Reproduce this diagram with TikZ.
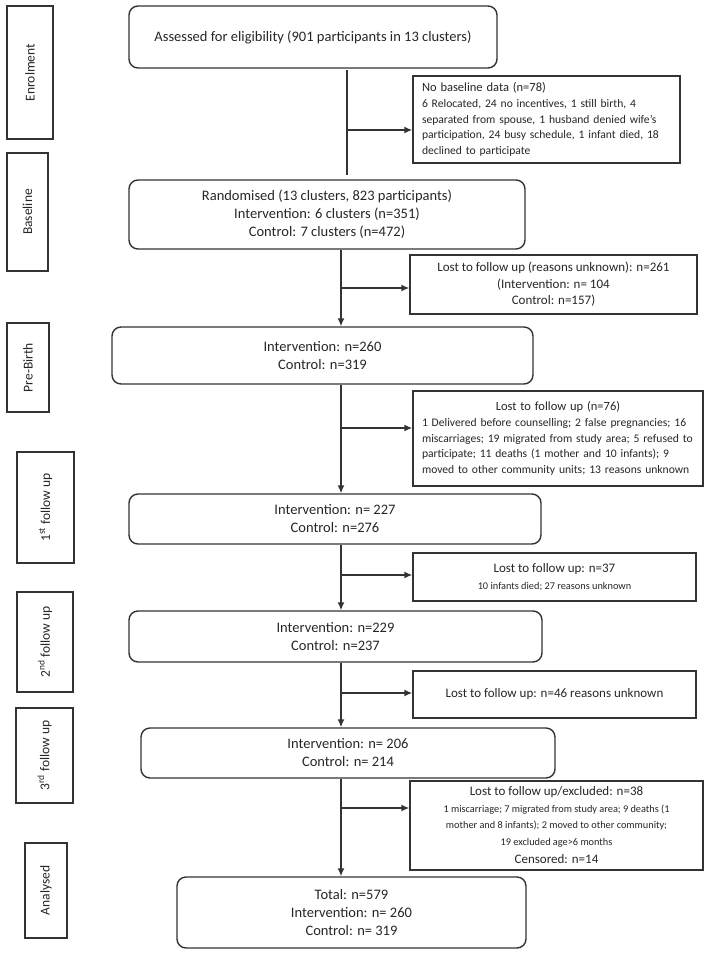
\documentclass[tikz,border=0pt]{standalone}
\usepackage{fontspec}
\setmainfont{Carlito}
\usetikzlibrary{arrows.meta}
\definecolor{lineC}{HTML}{333333}
\definecolor{textC}{HTML}{262626}
\newcommand{\smalltxt}{\fontsize{11.6}{15.8}\selectfont}
\newcommand{\tinytxt}{\fontsize{10.3}{14}\selectfont}
\newcommand{\headtxt}{\fontsize{13}{16.5}\selectfont}
\begin{document}
\begin{tikzpicture}[x=1pt,y=-1pt,
  line width=1.4pt, draw=lineC,
  box/.style={draw=lineC, text=textC, line width=1.4pt, inner sep=0pt},
  mainbox/.style={box, rounded corners=9pt, align=center, font=\fontsize{14.5}{18}\selectfont},
  sidebox/.style={box, align=center, font=\headtxt},
  parbox/.style={box, align=left, font=\smalltxt},
  phase/.style={box, rotate=90, font=\fontsize{13.5}{16}\selectfont},
  arr/.style={-{Latex[length=8pt,width=7pt]}},
]
\useasboundingbox (0,0) rectangle (709,954);

% phase labels
\node[phase, minimum width=133pt, minimum height=46pt] (pe) at (30,72.5) {Enrolment};
\node[phase, minimum width=118pt, minimum height=41pt] (pb) at (27.5,212) {Baseline};
\node[phase, minimum width=89pt, minimum height=42pt] (pp) at (28,367.5) {Pre-Birth};
\node[phase, minimum width=111pt, minimum height=57pt] (p1) at (45.5,507.5) {1\textsuperscript{st} follow up};
\node[phase, minimum width=100pt, minimum height=56pt] (p2) at (45,642) {2\textsuperscript{nd} follow up};
\node[phase, minimum width=95pt, minimum height=57pt] (p3) at (44.5,755.5) {3\textsuperscript{rd} follow up};
\node[phase, minimum width=95pt, minimum height=42pt] (pa) at (46,890.5) {Analysed};

% main boxes
\node[mainbox, minimum width=368pt, minimum height=62pt] (A) at (313,37) {Assessed for eligibility (901 participants in 13 clusters)};
\node[mainbox, minimum width=396pt, minimum height=69pt] (R) at (327,214.5) {Randomised (13 clusters, 823 participants)\\Intervention: 6 clusters (n=351)\\Control: 7 clusters (n=472)};
\node[mainbox, minimum width=421pt, minimum height=57pt] (P) at (322.5,355.5) {Intervention: n=260\\Control: n=319};
\node[mainbox, minimum width=412pt, minimum height=50pt] (F1) at (335,519) {Intervention: n= 227\\Control: n=276};
\node[mainbox, minimum width=413pt, minimum height=51pt] (F2) at (335.5,636.5) {Intervention: n=229\\Control: n=237};
\node[mainbox, minimum width=414pt, minimum height=50pt] (F3) at (348,753) {Intervention: n= 206\\Control: n= 214};
\node[mainbox, minimum width=349pt, minimum height=71pt] (T) at (351.5,912.5) {Total: n=579\\Intervention: n= 260\\Control: n= 319};

% side boxes
\node[parbox, inner xsep=9pt, text width=249pt, minimum height=87pt] (L0) at (546.5,119.5)
  {{\fontsize{12.5}{15.8}\selectfont No baseline data (n=78)}\\
   6 Relocated, 24 no incentives, 1 still birth, 4\\
   separated from spouse, 1 husband denied wife’s\\
   participation, 24 busy schedule, 1 infant died, 18\\
   declined to participate};
\node[sidebox, minimum width=287pt, minimum height=59pt] (L1) at (553.5,284.5)
  {Lost to follow up (reasons unknown): n=261\\(Intervention: n= 104\\Control: n=157)};
\node[parbox, inner xsep=9pt, text width=272pt, minimum height=95pt] (L2) at (558,438.5)
  {\makebox[272pt][c]{\fontsize{12.5}{15.8}\selectfont Lost to follow up (n=76)}\\
   1 Delivered before counselling; 2 false pregnancies; 16\\
   miscarriages; 19 migrated from study area; 5 refused to\\
   participate; 11 deaths (1 mother and 10 infants); 9\\
   moved to other community units; 13 reasons unknown};
\node[sidebox, minimum width=283pt, minimum height=48pt] (L3) at (554.5,577)
  {{\headtxt Lost to follow up: n=37}\\{\tinytxt 10 infants died; 27 reasons unknown}};
\node[sidebox, minimum width=283pt, minimum height=47pt] (L4) at (554.5,694.5)
  {Lost to follow up: n=46 reasons unknown};
\node[sidebox, minimum width=293pt, minimum height=89pt] (L5) at (556.5,825.5)
  {{\headtxt Lost to follow up/excluded: n=38}\\
   {\tinytxt 1 miscarriage; 7 migrated from study area; 9 deaths (1}\\
   {\tinytxt mother and 8 infants); 2 moved to other community;}\\
   {\tinytxt 19 excluded age>6 months}\\[2pt]
   {\headtxt Censored: n=14}};

% connectors
\coordinate (t0) at (347,70);
\coordinate (t1) at (347,175);
\draw (t0) -- (t1);
\coordinate (b0) at (347,130);
\draw[arr] (b0) -- (b0 -| L0.west);

\coordinate (c1) at (341,0);
\draw[arr] (R.south -| c1) -- (P.north -| c1);
\coordinate (b1) at (341,288);
\draw[arr] (b1) -- (b1 -| L1.west);

\draw[arr] (P.south -| c1) -- (F1.north -| c1);
\coordinate (b2) at (341,428);
\draw[arr] (b2) -- (b2 -| L2.west);

\draw[arr] (F1.south -| c1) -- (F2.north -| c1);
\coordinate (b3) at (341,575);
\draw[arr] (b3) -- (b3 -| L3.west);

\draw[arr] (F2.south -| c1) -- (F3.north -| c1);
\coordinate (b4) at (341,693);
\draw[arr] (b4) -- (b4 -| L4.west);

\draw[arr] (F3.south -| c1) -- (T.north -| c1);
\coordinate (b5) at (341,808);
\draw[arr] (b5) -- (b5 -| L5.west);
\end{tikzpicture}
\end{document}
